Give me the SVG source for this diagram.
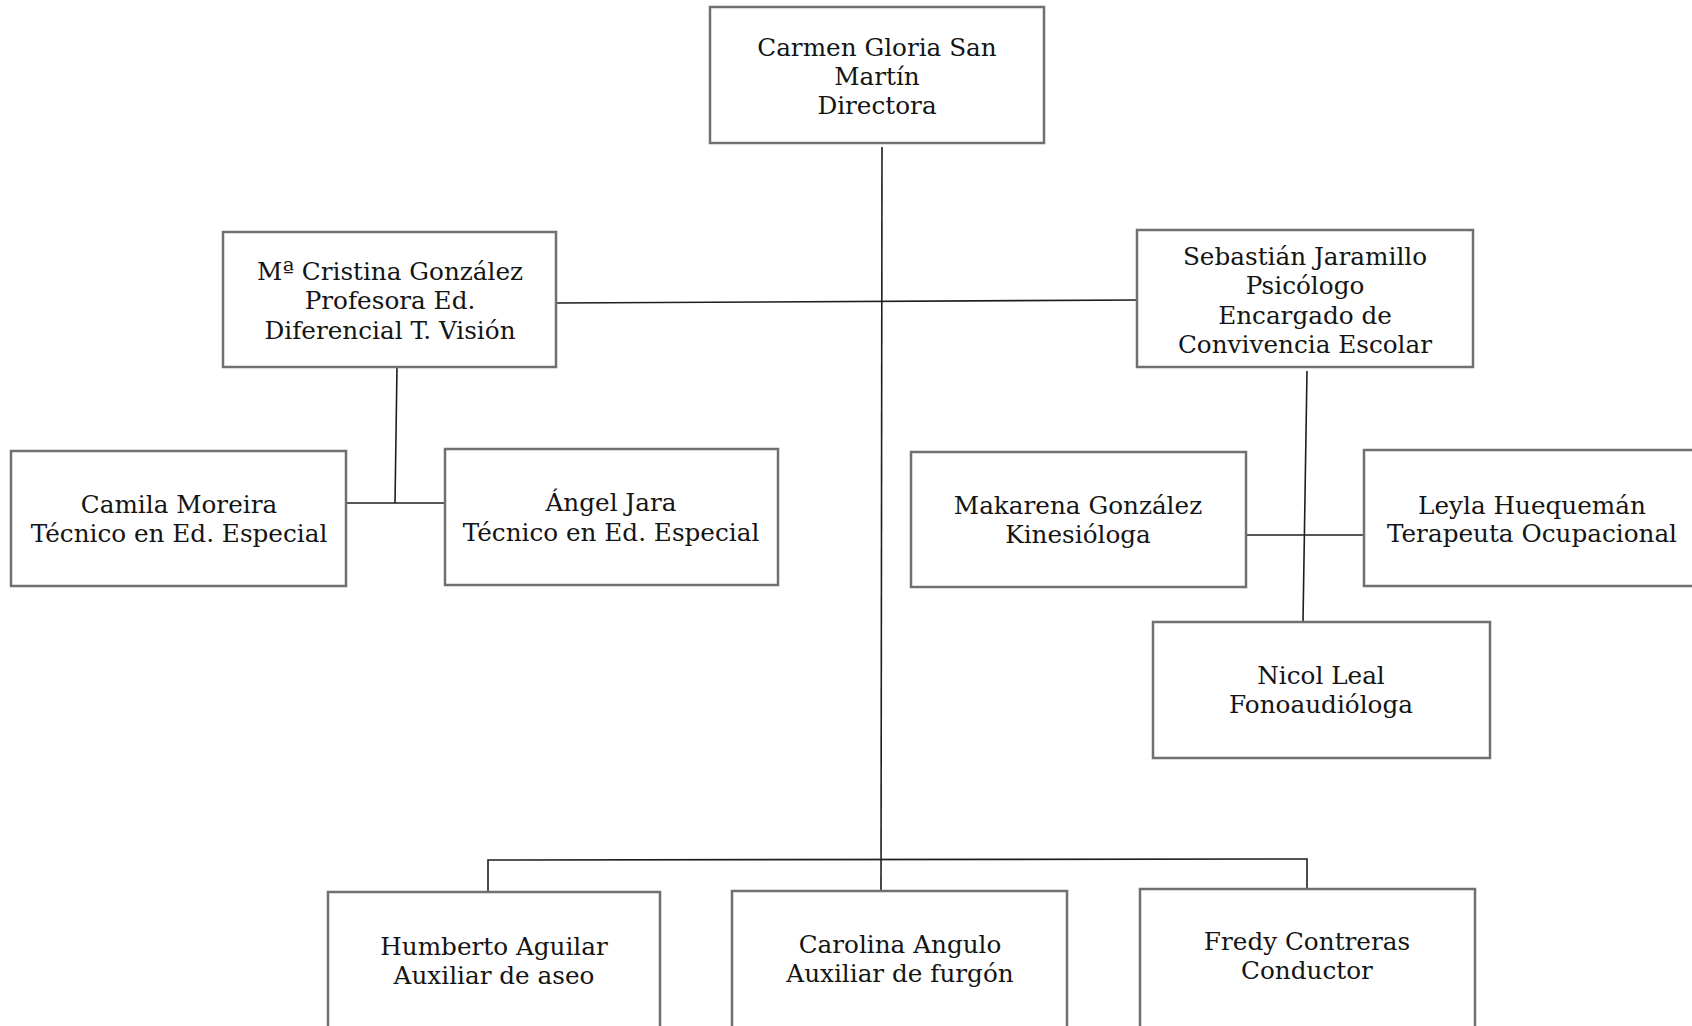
<svg xmlns="http://www.w3.org/2000/svg" width="1692" height="1026" viewBox="0 0 1692 1026">
<style>
.box{fill:#fff;stroke:#707070;stroke-width:2.5}
.lbl{font-family:"DejaVu Serif","Liberation Serif",serif;font-size:24.7px;fill:#141414;text-anchor:middle}
.con{fill:none;stroke:#1e1e1e;stroke-width:1.6}
</style>
<rect width="1692" height="1026" fill="#fff"/>
<g id="connectors">
<line class="con" x1="882" y1="147" x2="881" y2="891"/>
<line class="con" x1="556" y1="303" x2="1138" y2="300"/>
<line class="con" x1="397" y1="367" x2="395" y2="503"/>
<line class="con" x1="346" y1="503" x2="445" y2="503"/>
<line class="con" x1="1307" y1="371" x2="1303" y2="622"/>
<line class="con" x1="1246" y1="535" x2="1364" y2="535"/>
<polyline class="con" points="488,892 488,860 1307,859 1307,889"/>
</g>
<g id="n-directora">
<rect class="box" x="710" y="7" width="334" height="136"/>
<text class="lbl" x="877" y="56">Carmen Gloria San</text>
<text class="lbl" x="877" y="85">Martín</text>
<text class="lbl" x="877" y="114">Directora</text>
</g>
<g id="n-cristina">
<rect class="box" x="223" y="232" width="333" height="135"/>
<text class="lbl" x="390" y="280">Mª Cristina González</text>
<text class="lbl" x="390" y="309">Profesora Ed.</text>
<text class="lbl" x="390" y="339">Diferencial T. Visión</text>
</g>
<g id="n-sebastian">
<rect class="box" x="1137" y="230" width="336" height="137"/>
<text class="lbl" x="1305" y="265">Sebastián Jaramillo</text>
<text class="lbl" x="1305" y="294">Psicólogo</text>
<text class="lbl" x="1305" y="324">Encargado de</text>
<text class="lbl" x="1305" y="353">Convivencia Escolar</text>
</g>
<g id="n-camila">
<rect class="box" x="11" y="451" width="335" height="135"/>
<text class="lbl" x="179" y="513">Camila Moreira</text>
<text class="lbl" x="179" y="542">Técnico en Ed. Especial</text>
</g>
<g id="n-angel">
<rect class="box" x="445" y="449" width="333" height="136"/>
<text class="lbl" x="611" y="511">Ángel Jara</text>
<text class="lbl" x="611" y="541">Técnico en Ed. Especial</text>
</g>
<g id="n-makarena">
<rect class="box" x="911" y="452" width="335" height="135"/>
<text class="lbl" x="1078" y="514">Makarena González</text>
<text class="lbl" x="1078" y="543">Kinesióloga</text>
</g>
<g id="n-leyla">
<rect class="box" x="1364" y="450" width="350" height="136"/>
<text class="lbl" x="1532" y="514">Leyla Huequemán</text>
<text class="lbl" x="1532" y="542">Terapeuta Ocupacional</text>
</g>
<g id="n-nicol">
<rect class="box" x="1153" y="622" width="337" height="136"/>
<text class="lbl" x="1321" y="684">Nicol Leal</text>
<text class="lbl" x="1321" y="713">Fonoaudióloga</text>
</g>
<g id="n-humberto">
<rect class="box" x="328" y="892" width="332" height="150"/>
<text class="lbl" x="494" y="955">Humberto Aguilar</text>
<text class="lbl" x="494" y="984">Auxiliar de aseo</text>
</g>
<g id="n-carolina">
<rect class="box" x="732" y="891" width="335" height="150"/>
<text class="lbl" x="900" y="953">Carolina Angulo</text>
<text class="lbl" x="900" y="982">Auxiliar de furgón</text>
</g>
<g id="n-fredy">
<rect class="box" x="1140" y="889" width="335" height="150"/>
<text class="lbl" x="1307" y="950">Fredy Contreras</text>
<text class="lbl" x="1307" y="979">Conductor</text>
</g>
</svg>
